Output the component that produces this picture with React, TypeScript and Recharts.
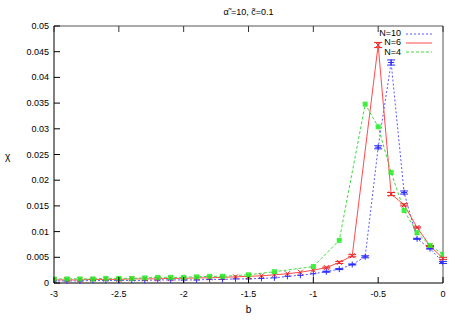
import React from 'react';
import { LineChart, Line, XAxis, YAxis, ErrorBar, ReferenceLine } from 'recharts';

// b values (x axis), step 0.1
const bValues = [
  -3, -2.9, -2.8, -2.7, -2.6, -2.5, -2.4, -2.3, -2.2, -2.1, -2,
  -1.9, -1.8, -1.7, -1.6, -1.5, -1.4, -1.3, -1.2, -1.1, -1,
  -0.9, -0.8, -0.7, -0.6, -0.5, -0.4, -0.3, -0.2, -0.1, 0,
];

// chi for N=10
const chiN10 = [
  0.0004, 0.0004, 0.0004, 0.0005, 0.0005, 0.0005, 0.0005, 0.0005, 0.0006, 0.0006, 0.0006,
  0.0006, 0.0007, 0.0007, 0.0008, 0.0008, 0.0009, 0.001, 0.0013, 0.0015, 0.0018,
  0.0022, 0.0027, 0.0036, 0.0051, 0.0264, 0.0429, 0.0176, 0.0086, 0.0067, 0.004,
];
const errN10 = [
  0, 0, 0, 0, 0, 0, 0, 0, 0, 0, 0,
  0, 0, 0, 0, 0, 0, 0, 0, 0, 0,
  0.0001, 0.0001, 0.0001, 0.0002, 0.0003, 0.0005, 0.0003, 0.0001, 0.0001, 0.0002,
];

// chi for N=6 (no point at -0.6)
const chiN6 = [
  0.0006, 0.0006, 0.0006, 0.0007, 0.0007, 0.0007, 0.0008, 0.0008, 0.0008, 0.0009, 0.0009,
  0.001, 0.001, 0.0011, 0.0012, 0.0013, 0.0014, 0.0016, 0.0018, 0.0021, 0.0025,
  0.003, 0.004, 0.0053, null, 0.0463, 0.0173, 0.0152, 0.0108, 0.0072, 0.0048,
];
const errN6 = [
  0, 0, 0, 0, 0, 0, 0, 0, 0, 0, 0,
  0, 0, 0, 0, 0, 0, 0, 0, 0, 0,
  0.0001, 0.0002, 0.0002, 0, 0.0005, 0.0003, 0.0002, 0.0001, 0.0001, 0.0002,
];

// chi for N=4 (sparser in the middle)
const chiN4 = [
  0.0008, 0.0008, 0.0008, 0.0008, 0.0009, 0.0009, 0.0009, 0.001, 0.0011, 0.0011, 0.0011,
  0.0012, 0.0013, 0.0013, null, 0.0016, null, 0.0022, null, null, 0.0032,
  null, 0.0083, null, 0.0348, 0.0304, 0.0215, 0.0141, 0.0098, 0.0073, 0.0056,
];

const xTicks = [-3, -2.5, -2, -1.5, -1, -0.5, 0];
const yTicks = [0, 0.005, 0.01, 0.015, 0.02, 0.025, 0.03, 0.035, 0.04, 0.045, 0.05];

const series = [
  { key: 'n10', name: 'N=10', color: '#5a5aff', dash: '2 2' },
  { key: 'n6', name: 'N=6', color: '#ff4a4a', dash: undefined },
  { key: 'n4', name: 'N=4', color: '#3cdc3c', dash: '3 2' },
];

const data = bValues.map((b, i) => ({
  b,
  n10: chiN10[i],
  e10: errN10[i],
  n6: chiN6[i],
  e6: errN6[i],
  n4: chiN4[i],
}));

const W = 459;
const H = 322;
const font = '"Liberation Sans", Arial, sans-serif';
const TICK = 6;

const BottomTick = (props: any) => {
  const { x, y, payload } = props;
  const ay = y - 7;
  return (
    <g>
      <line x1={x} x2={x} y1={ay} y2={ay - TICK} stroke="#000" />
      <text x={x} y={y + 7} textAnchor="middle" fontSize={9} fontFamily={font} fill="#000">
        {String(payload.value)}
      </text>
    </g>
  );
};

const TopTick = (props: any) => {
  const { x, y } = props;
  return <line x1={x} x2={x} y1={y} y2={y + TICK} stroke="#333" />;
};

const LeftTick = (props: any) => {
  const { x, y, payload } = props;
  const ax = x + 5;
  return (
    <g>
      <line x1={ax} x2={ax + TICK} y1={y} y2={y} stroke="#000" />
      <text x={x} y={y + 3} textAnchor="end" fontSize={9} fontFamily={font} fill="#000">
        {String(payload.value)}
      </text>
    </g>
  );
};

const RightTick = (props: any) => {
  const { x, y } = props;
  return <line x1={x} x2={x - TICK} y1={y} y2={y} stroke="#333" />;
};

const PlusDot = (props: any) => {
  const { cx, cy, index } = props;
  if (cx == null || cy == null || props.value == null) return <g key={index} />;
  return (
    <g key={index} stroke="#2a2aff" strokeWidth={1}>
      <line x1={cx - 3} x2={cx + 3} y1={cy} y2={cy} />
      <line x1={cx} x2={cx} y1={cy - 3} y2={cy + 3} />
    </g>
  );
};

const CrossDot = (props: any) => {
  const { cx, cy, index } = props;
  if (cx == null || cy == null || props.value == null) return <g key={index} />;
  return (
    <g key={index} stroke="#ee2020" strokeWidth={1}>
      <line x1={cx - 2.5} x2={cx + 2.5} y1={cy - 2.5} y2={cy + 2.5} />
      <line x1={cx - 2.5} x2={cx + 2.5} y1={cy + 2.5} y2={cy - 2.5} />
    </g>
  );
};

const StarDot = (props: any) => {
  const { cx, cy, index } = props;
  if (cx == null || cy == null || props.value == null) return <g key={index} />;
  return <rect key={index} x={cx - 2.5} y={cy - 2.5} width={5} height={5} fill="#22ee22" opacity={0.85} />;
};

const dots: Record<string, any> = { n10: PlusDot, n6: CrossDot, n4: StarDot };

const LegendBox = () => (
  <div style={{ position: 'absolute', top: 29, left: 350, width: 82, fontFamily: font, fontSize: 9, lineHeight: '9px' }}>
    {series.map((s) => (
      <div key={s.key} style={{ display: 'flex', alignItems: 'center', height: 9.3, justifyContent: 'flex-end' }}>
        <span style={{ marginRight: 5 }}>{s.name}</span>
        <svg width={26} height={6}>
          <line x1={0} x2={26} y1={3} y2={3} stroke={s.color} strokeDasharray={s.dash} />
        </svg>
      </div>
    ))}
  </div>
);

export default function App() {
  return (
    <div style={{ position: 'absolute', left: 0, top: 0, width: W, height: H, background: '#fff' }}>
      <div style={{ position: 'absolute', top: 7, left: 54, width: 389, textAlign: 'center', fontFamily: font, fontSize: 9 }}>
        α̃ =10, c̃=0.1
      </div>
      <div style={{ position: 'absolute', top: 151, left: 5, fontFamily: font, fontSize: 10 }}>χ</div>
      <div style={{ position: 'absolute', top: 304, left: 54, width: 389, textAlign: 'center', fontFamily: font, fontSize: 10 }}>
        b
      </div>
      <LineChart width={W} height={H} data={data} margin={{ top: 25, right: 15, bottom: 14, left: 0 }}>
        <XAxis
          dataKey="b"
          type="number"
          domain={[-3, 0]}
          ticks={xTicks}
          allowDataOverflow
          height={25}
          tickLine={false}
          tickSize={0}
          tickMargin={7}
          axisLine={{ stroke: '#000' }}
          tick={<BottomTick />}
          interval={0}
        />
        <XAxis
          xAxisId="top"
          orientation="top"
          dataKey="b"
          type="number"
          domain={[-3, 0]}
          ticks={xTicks}
          height={1}
          tickLine={false}
          tickSize={0}
          tickMargin={0}
          axisLine={false}
          tick={<TopTick />}
          interval={0}
        />
        <YAxis
          type="number"
          domain={[0, 0.05]}
          ticks={yTicks}
          width={54}
          tickLine={false}
          tickSize={0}
          tickMargin={5}
          axisLine={{ stroke: '#000' }}
          tick={<LeftTick />}
          interval={0}
        />
        <YAxis
          yAxisId="right"
          orientation="right"
          type="number"
          domain={[0, 0.05]}
          ticks={yTicks}
          width={1}
          tickLine={false}
          tickSize={0}
          tickMargin={0}
          axisLine={false}
          tick={<RightTick />}
          interval={0}
        />
        <ReferenceLine y={0.05} stroke="#555" ifOverflow="extendDomain" />
        <ReferenceLine x={0} stroke="#555" ifOverflow="extendDomain" />
        {series.map((s) => (
          <Line
            key={s.key}
            dataKey={s.key}
            name={s.name}
            stroke={s.color}
            strokeWidth={1}
            strokeDasharray={s.dash}
            connectNulls
            dot={dots[s.key]}
            activeDot={false}
            isAnimationActive={false}
          >
            {s.key === 'n10' && <ErrorBar dataKey="e10" width={4} stroke="#2a2aff" strokeWidth={1} />}
            {s.key === 'n6' && <ErrorBar dataKey="e6" width={4} stroke="#ee2020" strokeWidth={1} />}
          </Line>
        ))}
      </LineChart>
      <LegendBox />
    </div>
  );
}
